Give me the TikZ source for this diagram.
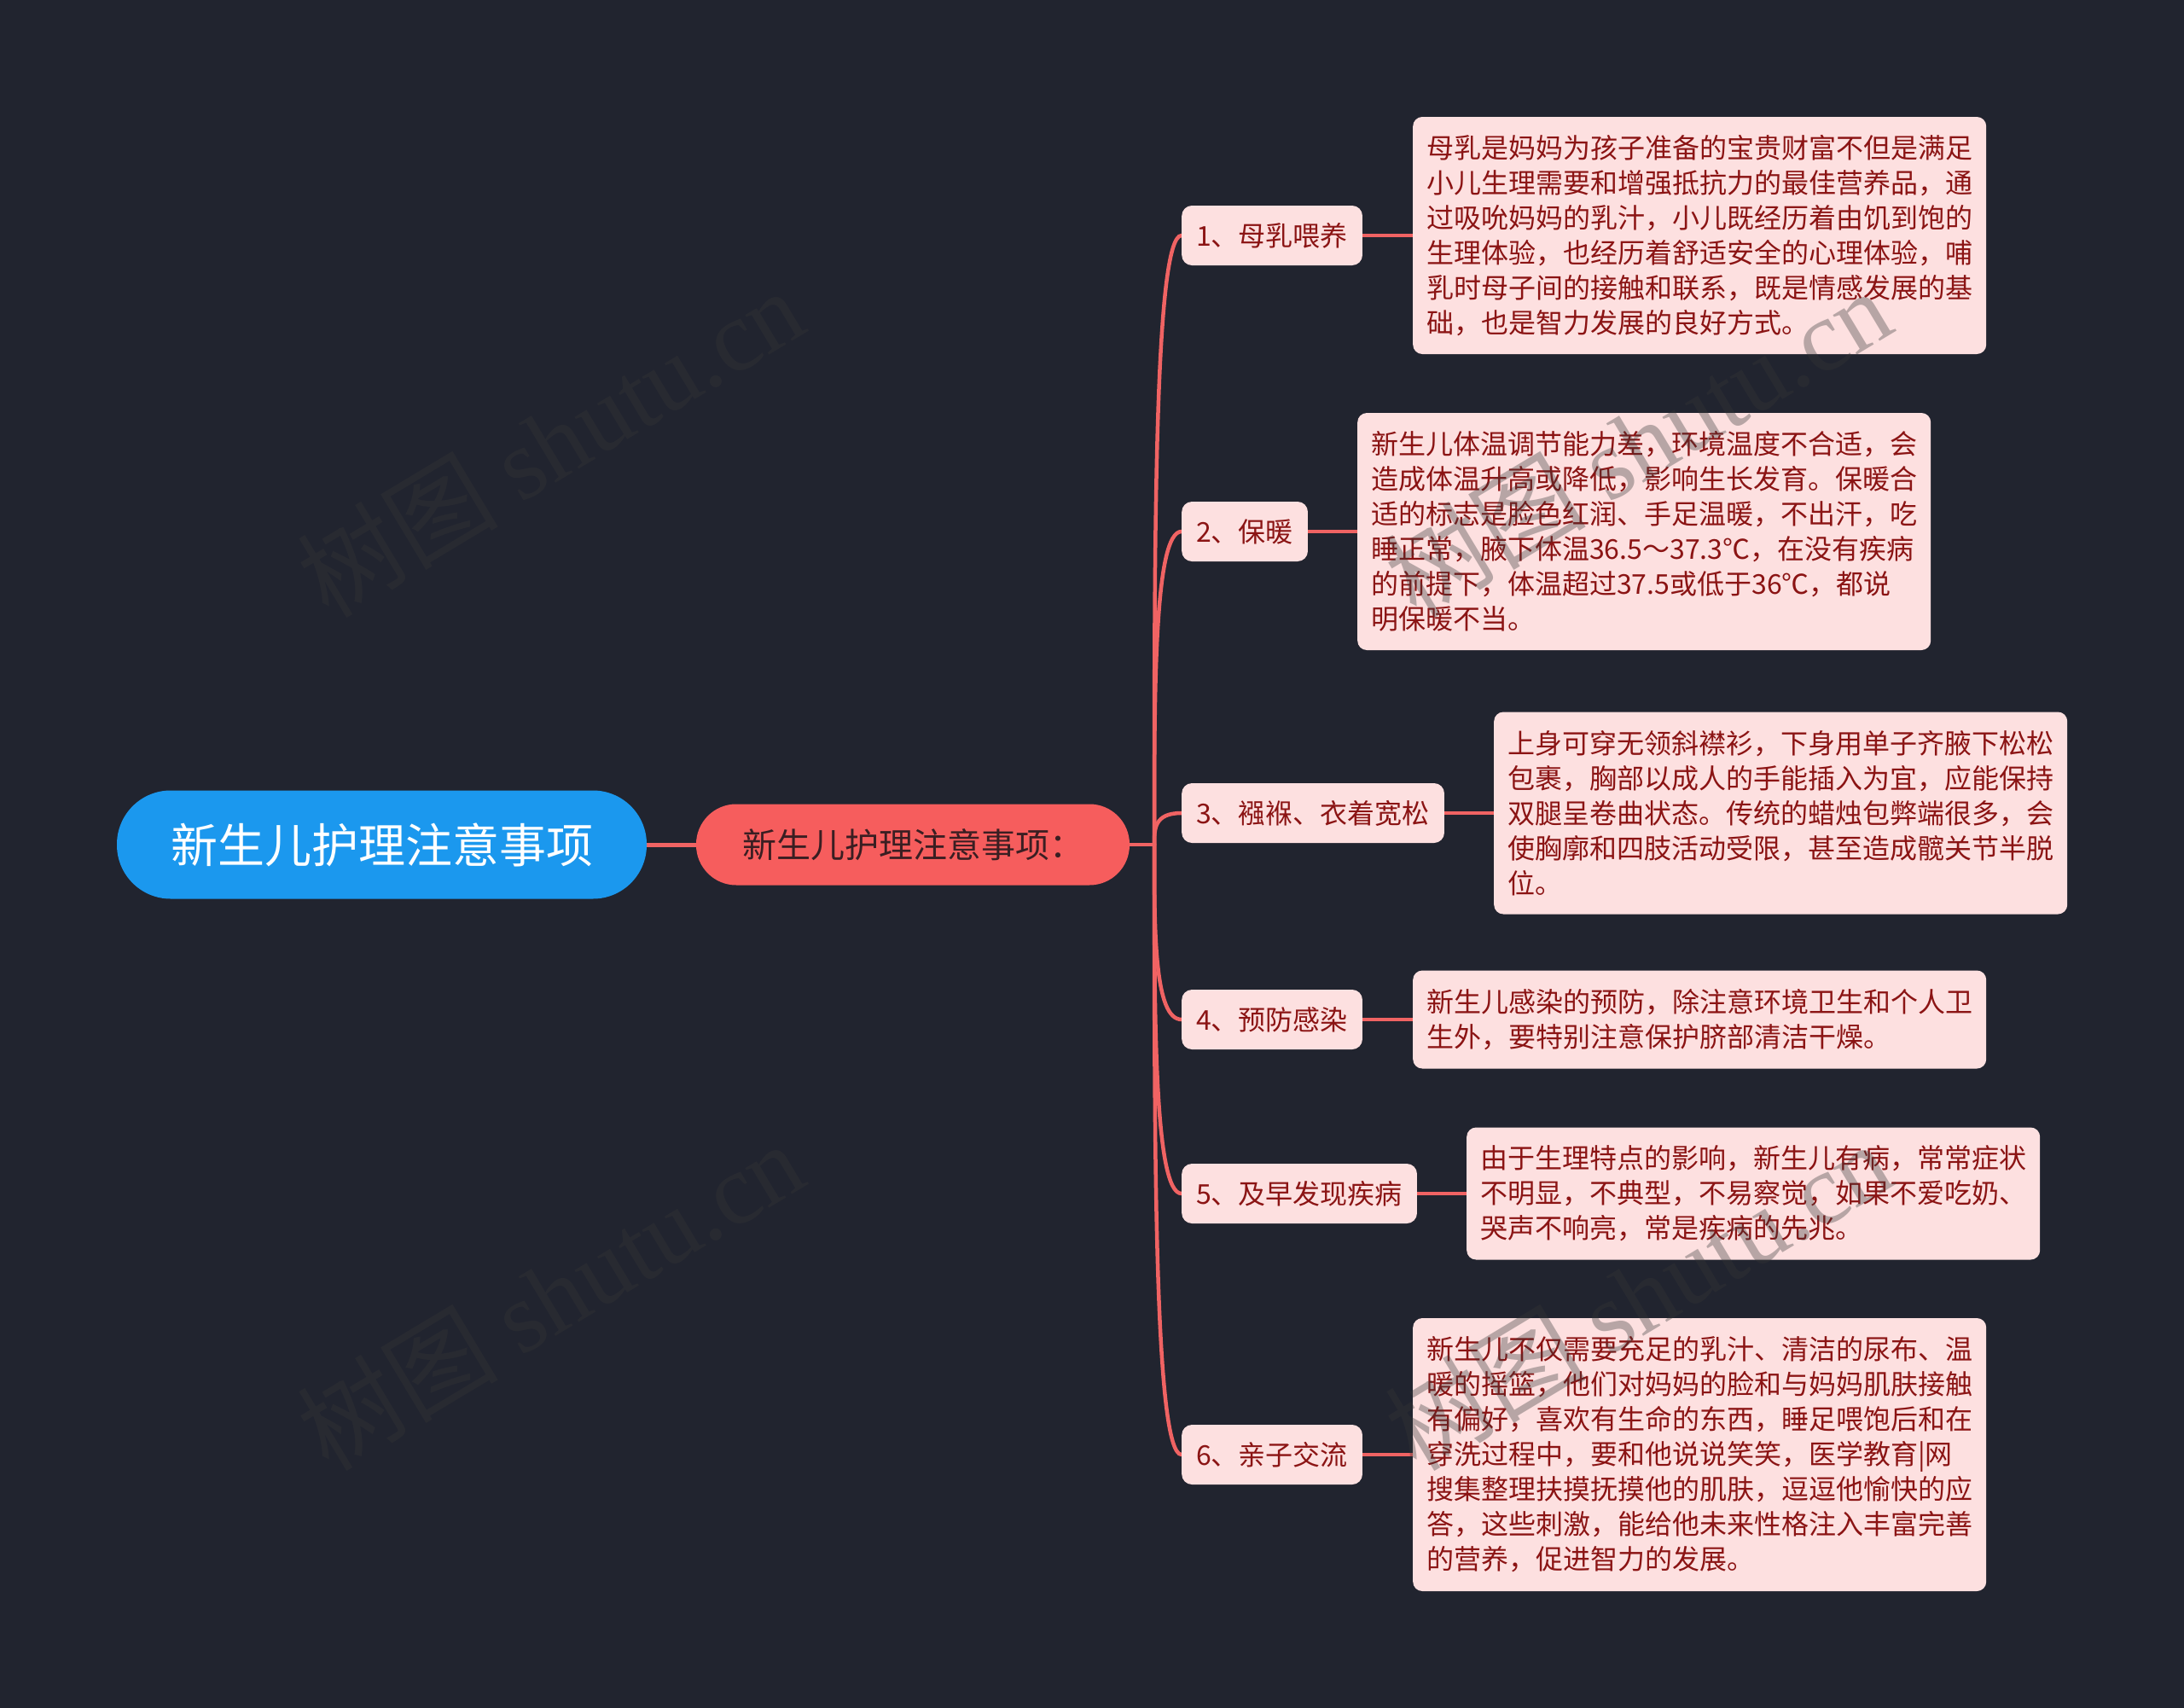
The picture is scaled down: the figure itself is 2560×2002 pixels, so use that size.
\documentclass[tikz,border=0pt]{standalone}
\usepackage{fontspec}
\setmainfont{Noto Sans CJK SC}
\newfontfamily\wmlatin{Liberation Serif}
\usetikzlibrary{calc,backgrounds}
\definecolor{bgc}{HTML}{21242F}
\definecolor{rootc}{HTML}{1B98EE}
\definecolor{secc}{HTML}{F65D5D}
\definecolor{sectxt}{HTML}{3A1E22}
\definecolor{linec}{HTML}{F06363}
\definecolor{pinkf}{HTML}{FDE0E0}
\definecolor{leaftxt}{HTML}{8B1414}
\definecolor{wmc}{RGB}{55,55,55}
\begin{document}
\begin{tikzpicture}[x=1pt,y=1pt,
  conn/.style={draw=linec, line width=4.5pt},
  rootbox/.style={fill=rootc, text=white, rounded corners=63pt, minimum width=621pt, minimum height=127pt, inner sep=0pt, font=\fontsize{55}{60}\selectfont},
  secbox/.style={fill=secc, text=sectxt, rounded corners=47pt, minimum width=508pt, minimum height=95pt, inner sep=0pt, font=\fontsize{40}{46}\selectfont},
  topicbox/.style={fill=pinkf, text=leaftxt, rounded corners=12pt, minimum height=70pt, inner xsep=17pt, inner ysep=0pt, font=\fontsize{32}{41}\selectfont, anchor=west},
  leafbox/.style={fill=pinkf, text=leaftxt, rounded corners=11pt, inner sep=0pt, minimum width=672pt, text width=640pt, align=left, font=\fontsize{32}{41}\selectfont, anchor=west},
  wm/.style={text=wmc, text opacity=0.35, rotate=31, font=\fontsize{118}{120}\selectfont}
]
\useasboundingbox (0,0) rectangle (2560,-2002);

% nodes
\node[rootbox] (root) at (447.5,-990) {新生儿护理注意事项};
\node[secbox] (sec) at (1070,-990) {新生儿护理注意事项：};

\node[topicbox] (t1) at (1385,-276) {1、母乳喂养};
\node[topicbox] (t2) at (1385,-623) {2、保暖};
\node[topicbox] (t3) at (1385,-953) {3、襁褓、衣着宽松};
\node[topicbox] (t4) at (1385,-1195) {4、预防感染};
\node[topicbox] (t5) at (1385,-1399) {5、及早发现疾病};
\node[topicbox] (t6) at (1385,-1705) {6、亲子交流};

\node[leafbox, minimum height=278pt] (l1) at (1656,-276) {母乳是妈妈为孩子准备的宝贵财富不但是满足\\小儿生理需要和增强抵抗力的最佳营养品，通\\过吸吮妈妈的乳汁，小儿既经历着由饥到饱的\\生理体验，也经历着舒适安全的心理体验，哺\\乳时母子间的接触和联系，既是情感发展的基\\础，也是智力发展的良好方式。};
\node[leafbox, minimum height=278pt] (l2) at (1591,-623) {新生儿体温调节能力差，环境温度不合适，会\\造成体温升高或降低，影响生长发育。保暖合\\适的标志是脸色红润、手足温暖，不出汗，吃\\睡正常，腋下体温36.5～37.3℃，在没有疾病\\的前提下，体温超过37.5或低于36℃，都说\\明保暖不当。};
\node[leafbox, minimum height=237pt] (l3) at (1751,-953) {上身可穿无领斜襟衫，下身用单子齐腋下松松\\包裹，胸部以成人的手能插入为宜，应能保持\\双腿呈卷曲状态。传统的蜡烛包弊端很多，会\\使胸廓和四肢活动受限，甚至造成髋关节半脱\\位。};
\node[leafbox, minimum height=115pt] (l4) at (1656,-1195) {新生儿感染的预防，除注意环境卫生和个人卫\\生外，要特别注意保护脐部清洁干燥。};
\node[leafbox, minimum height=155pt] (l5) at (1719,-1399) {由于生理特点的影响，新生儿有病，常常症状\\不明显，不典型，不易察觉，如果不爱吃奶、\\哭声不响亮，常是疾病的先兆。};
\node[leafbox, minimum height=320pt] (l6) at (1656,-1705) {新生儿不仅需要充足的乳汁、清洁的尿布、温\\暖的摇篮，他们对妈妈的脸和与妈妈肌肤接触\\有偏好，喜欢有生命的东西，睡足喂饱后和在\\穿洗过程中，要和他说说笑笑，医学教育|网\\搜集整理扶摸抚摸他的肌肤，逗逗他愉快的应\\答，这些刺激，能给他未来性格注入丰富完善\\的营养，促进智力的发展。};

% connectors behind the nodes
\begin{scope}[on background layer]
\fill[bgc] (0,0) rectangle (2560,-2002);
\coordinate (hub) at (1353,-990);
\draw[conn, line width=5pt] (root.east) -- (sec.west);
\draw[conn] (sec.east) -- (hub);
\foreach \n in {1,...,6} {
  \coordinate (k\n) at (hub|-t\n.west);
  \draw[conn, line cap=round] (hub) .. controls ($(hub)!0.5!(k\n)$) and (k\n) .. (t\n.west);
  \draw[conn] (t\n.east) -- (l\n.west);
}
\end{scope}

% watermarks
\node[wm] (w1) at (645,-518) {树图 {\wmlatin shutu.cn}};
\node[wm] (w2) at (1920,-518) {树图 {\wmlatin shutu.cn}};
\node[wm] (w3) at (645,-1518) {树图 {\wmlatin shutu.cn}};
\node[wm] (w4) at (1920,-1518) {树图 {\wmlatin shutu.cn}};
\end{tikzpicture}
\end{document}
